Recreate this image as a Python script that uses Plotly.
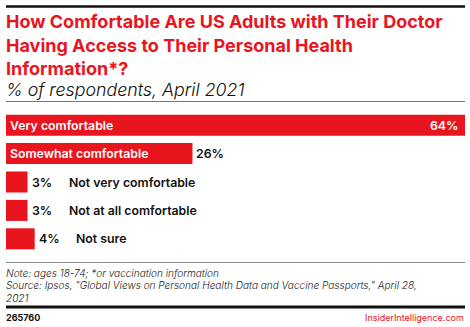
import plotly.graph_objects as go

categories = ["Very comfortable", "Somewhat comfortable", "Not very comfortable",
              "Not at all comfortable", "Not sure"]
values = [64, 26, 3, 3, 4]
value_labels = ["64%", "26%", "3%", "3%", "4%"]

title_lines = ["How Comfortable Are US Adults with Their Doctor",
               "Having Access to Their Personal Health",
               "Information*?"]
subtitle = "% of respondents, April 2021"
note_lines = ["Note: ages 18-74; *or vaccination information",
              "Source: Ipsos, \"Global Views on Personal Health Data and Vaccine Passports,\" April 28,",
              "2021"]

RED = "#e8141e"
W, H = 470, 327
L, R, T, B = 6, 5, 111, 74
PW, PH = W - L - R, H - T - B
FONT = "Inter"


def px(x):
    return (x - L) / PW


def py(y):
    return (H - B - y) / PH


fig = go.Figure()
fig.add_trace(go.Bar(
    x=values, y=categories, orientation="h",
    marker=dict(color=RED, line=dict(width=0)),
    hoverinfo="skip",
))

LF = dict(family=FONT, size=12.3, weight=600)
anns = []
for c, v, vl in zip(categories, values, value_labels):
    if v >= 20:
        anns.append(dict(x=0, y=c, xref="x", yref="y", text=c, showarrow=False,
                         xanchor="left", xshift=2, font=dict(LF, color="white")))
        if v >= 50:
            anns.append(dict(x=v, y=c, xref="x", yref="y", text=vl, showarrow=False,
                             xanchor="right", xshift=-5, font=dict(LF, color="white")))
        else:
            anns.append(dict(x=v, y=c, xref="x", yref="y", text=vl, showarrow=False,
                             xanchor="left", xshift=2, font=dict(LF, color="#111")))
    else:
        anns.append(dict(x=v, y=c, xref="x", yref="y", text=vl, showarrow=False,
                         xanchor="left", xshift=2, font=dict(LF, color="#111")))
        anns.append(dict(x=v, y=c, xref="x", yref="y", text=c, showarrow=False,
                         xanchor="left", xshift=39, font=dict(LF, color="#111")))

# Title lines
for i, t in enumerate(title_lines):
    anns.append(dict(x=px(4), y=py(22 + 23 * i), xref="paper", yref="paper",
                     xanchor="left", yanchor="middle", align="left", showarrow=False,
                     text=t, font=dict(family=FONT, size=18, color=RED, weight=700)))
anns.append(dict(x=px(4), y=py(89), xref="paper", yref="paper", xanchor="left", yanchor="middle",
                 align="left", showarrow=False, text="<i>" + subtitle + "</i>",
                 font=dict(family=FONT, size=17.8, color="#111", weight=300)))
for i, t in enumerate(note_lines):
    anns.append(dict(x=px(4), y=py(272.5 + 12.8 * i), xref="paper", yref="paper",
                     xanchor="left", yanchor="middle", align="left", showarrow=False,
                     text="<i>" + t + "</i>",
                     font=dict(family=FONT, size=10.05, color="#222", weight=300)))
anns.append(dict(x=px(4), y=py(317.5), xref="paper", yref="paper", xanchor="left", yanchor="middle",
                 align="left", showarrow=False, text="265760",
                 font=dict(family=FONT, size=9, color="#111", weight=700)))
anns.append(dict(x=px(466), y=py(317.5), xref="paper", yref="paper", xanchor="right", yanchor="middle",
                 align="right", showarrow=False, text="InsiderIntelligence.com",
                 font=dict(family=FONT, size=9, color=RED, weight=400)))

shapes = [
    dict(type="line", xref="paper", yref="paper", x0=px(6), x1=px(465), y0=py(6.5), y1=py(6.5),
         line=dict(color="#111", width=2.5)),
    dict(type="line", xref="paper", yref="paper", x0=px(6), x1=px(465), y0=py(101.5), y1=py(101.5),
         line=dict(color="#777", width=1)),
    dict(type="line", xref="paper", yref="paper", x0=px(6), x1=px(465), y0=py(262.5), y1=py(262.5),
         line=dict(color="#888", width=1)),
    dict(type="line", xref="paper", yref="paper", x0=px(6), x1=px(465), y0=py(307), y1=py(307),
         line=dict(color="#111", width=3)),
]

fig.update_layout(
    width=W, height=H,
    margin=dict(l=L, r=R, t=T, b=B, pad=0),
    paper_bgcolor="white", plot_bgcolor="white",
    bargap=0.26,
    showlegend=False,
    xaxis=dict(range=[0, 64], visible=False, fixedrange=True),
    yaxis=dict(autorange="reversed", visible=False, fixedrange=True),
    annotations=anns, shapes=shapes,
)

fig.write_html("out.html", config={"displayModeBar": False})
